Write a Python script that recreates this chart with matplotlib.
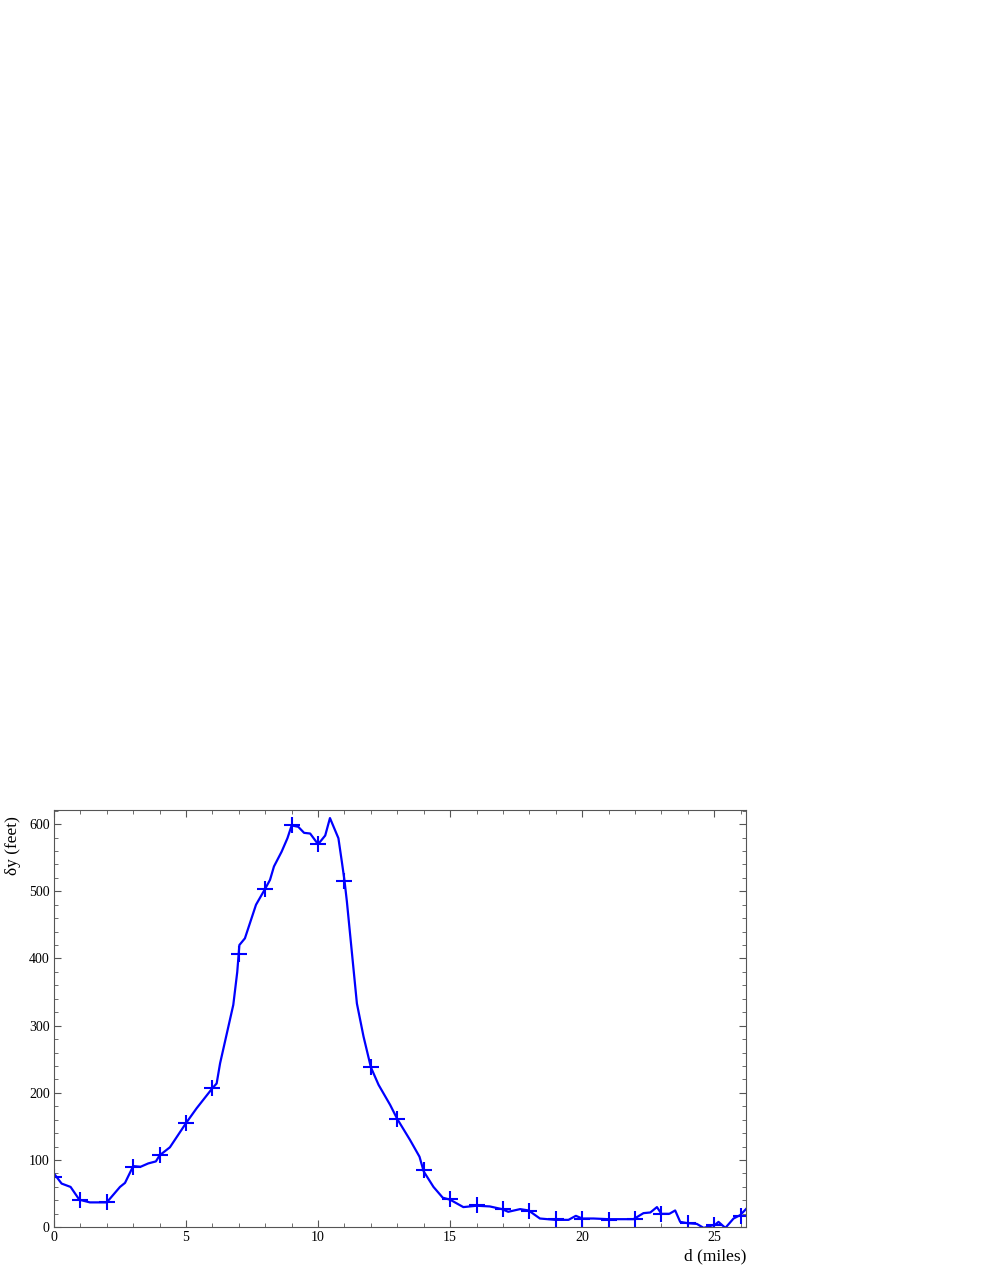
import numpy as np
import matplotlib
matplotlib.use("Agg")
import matplotlib.pyplot as plt
from matplotlib.ticker import MultipleLocator

plt.rcParams['font.family'] = ['Liberation Serif', 'DejaVu Serif']

# smooth profile (miles, feet)
d_line = [0.0, 0.29, 0.63, 0.96, 1.36, 2.0, 2.5, 2.69, 3.0, 3.28, 3.57, 3.86, 4.0, 4.39,
          5.0, 5.4, 6.0, 6.16, 6.29, 6.79, 6.94, 7.02, 7.23, 7.65, 8.0, 8.18, 8.33, 8.62,
          8.84, 9.0, 9.25, 9.47, 9.7, 10.0, 10.27, 10.45, 10.77, 10.9, 11.0, 11.09, 11.21,
          11.47, 11.72, 12.0, 12.29, 12.73, 13.0, 13.48, 13.84, 14.0, 14.37, 14.72, 15.0,
          15.5, 16.0, 16.5, 16.96, 17.2, 17.65, 17.97, 18.4, 18.98, 19.48, 19.76, 20.0,
          20.43, 21.0, 21.94, 22.32, 22.58, 22.83, 23.0, 23.3, 23.52, 23.71, 24.0, 24.34,
          24.6, 25.04, 25.16, 25.42, 25.73, 25.98, 26.2]
dy_line = [80, 65, 60, 41, 37, 37, 60, 66, 91, 90, 95, 98, 107, 119,
           155, 177, 207, 214, 244, 331, 380, 420, 430, 480, 504, 517, 537, 559,
           579, 598, 596, 587, 586, 570, 583, 609, 579, 544, 516, 485, 437,
           333, 284, 238, 212, 182, 161, 130, 105, 83, 60, 44, 41,
           30, 32, 31, 27, 23, 27, 25, 13, 11, 11, 17, 13,
           13, 12, 12, 21, 22, 30, 20, 20, 25, 8, 6, 5,
           -1, 4, 8, -1, 13, 18, 27]

# sampled points every mile
d_pts = np.arange(0, 27)
dy_pts = [75, 40, 38, 90, 107, 155, 207, 407, 504, 598, 570, 516, 238, 161, 85,
          42, 33, 27, 24, 12, 13, 11, 13, 20, 6, 4, 17]

fig = plt.figure(figsize=(9.81, 12.69), dpi=100)
ax = fig.add_axes([0.055, 0.0329, 0.7054, 0.3288])

ax.plot(d_line, dy_line, color='#0000ff', lw=1.6)
ax.plot(d_pts, dy_pts, ls='none', marker='+', ms=12, mew=1.5, color='#0000ff')

ax.set_xlim(0, 26.2)
ax.set_ylim(0, 621)
ax.xaxis.set_major_locator(MultipleLocator(5))
ax.xaxis.set_minor_locator(MultipleLocator(1))
ax.yaxis.set_major_locator(MultipleLocator(100))
ax.yaxis.set_minor_locator(MultipleLocator(20))
ax.tick_params(which='both', direction='in', top=True, right=True,
               color='#555555', labelsize=10, pad=3)
ax.tick_params(which='major', length=5, width=0.8)
ax.tick_params(which='minor', length=3, width=0.6)
for s in ax.spines.values():
    s.set_color('#555555')

ax.set_ylabel('δy (feet)', fontsize=12.5)
ax.yaxis.set_label_coords(-0.048, 0.915)
ax.set_xlabel('d (miles)', fontsize=12.5, ha='right')
ax.xaxis.set_label_coords(1.0, -0.05)

fig.savefig('out.png', dpi=100)
